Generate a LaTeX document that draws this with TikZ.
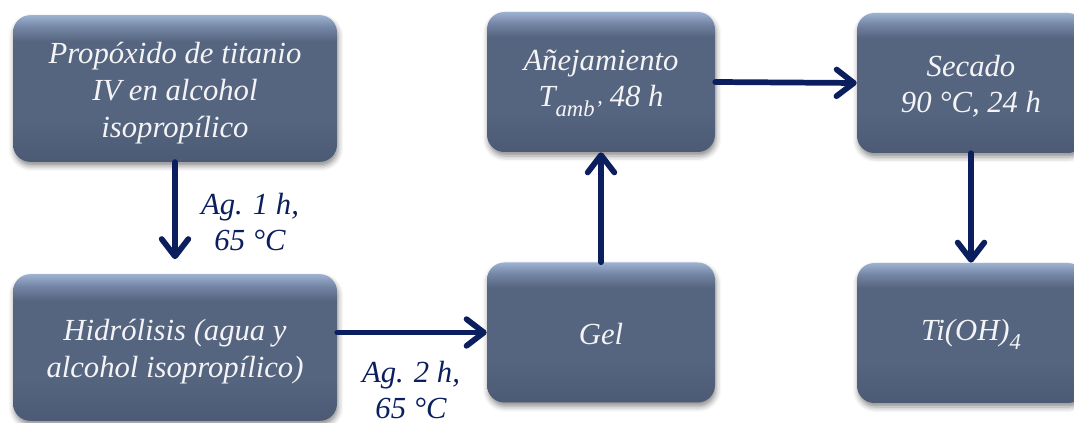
\documentclass[tikz,border=0pt]{standalone}
\usepackage{fontspec}
\setmainfont{Liberation Serif}
\usetikzlibrary{arrows.meta,shadows.blur,calc}

\definecolor{navy}{HTML}{0B1F5E}
\definecolor{bxdark}{HTML}{4C5A76}
\definecolor{bxmid}{HTML}{55647F}
\definecolor{bxlight}{HTML}{7587A6}
\definecolor{bxtop}{HTML}{9DB1D1}
\definecolor{txt}{HTML}{F4F4F6}

% lowered, enlarged subscript as set in the step labels
\newcommand\lowsub[1]{\raisebox{-0.32em}{\fontsize{17}{17}\selectfont #1}}

% box body: flat slate blue with a light band along the top edge
\pgfdeclareverticalshading{boxfill}{100bp}{%
  color(0bp)=(bxdark); color(25bp)=(bxdark); color(40bp)=(bxmid);
  color(66bp)=(bxmid); color(71bp)=(bxlight); color(75bp)=(bxtop);
  color(100bp)=(bxtop)}

\begin{document}
\begin{tikzpicture}[x=0.75pt,y=-0.75pt,
  stepbox/.style={rounded corners=13pt, shade, shading=boxfill, inner sep=0pt,
    blur shadow={shadow xshift=0.8pt, shadow yshift=-3pt,
      shadow blur radius=4pt, shadow opacity=45}},
  widebox/.style={stepbox, minimum width=243pt, minimum height=110pt},
  smallbox/.style={stepbox, minimum width=171pt, minimum height=105pt},
  steptext/.style={text=txt, align=center, inner sep=0pt,
    font=\fontsize{23}{27.5}\selectfont\itshape},
  flow/.style={draw=navy, line width=4.3pt, line cap=round,
    -{Straight Barb[length=13pt,width=20pt,line cap=round,line join=round]}},
  cond/.style={text=navy, align=center,
    font=\fontsize{23}{27}\selectfont\itshape}]

\useasboundingbox (0,0) rectangle (1074,423);

% process steps
\node[widebox] (prop) at (175,88.5) {};
\node[widebox] (hid) at (175,347.5) {};
\node[smallbox] (gel) at (601,332.5) {};
\node[smallbox] (ane) at (601,82) {};
\node[smallbox] (sec) at (971,83) {};
\node[smallbox] (ti) at (971,333) {};

% step texts, set a little below the box centres
\node[steptext] (prop-t) at ([yshift=-3.5pt]prop.center) {Propóxido de titanio\\IV en alcohol\\isopropílico};
\node[steptext] (hid-t) at ([yshift=-3pt]hid.center) {Hidrólisis (agua y\\alcohol isopropílico)};
\node[steptext] (gel-t) at ([yshift=-1.5pt]gel.center) {Gel};
\node[steptext] (ane-t) at ([yshift=-1pt]ane.center) {Añejamiento\\T\lowsub{amb’} 48 h};
\node[steptext] (sec-t) at ([yshift=-2.5pt]sec.center) {Secado\\90 °C, 24 h};
\node[steptext] (ti-t) at ([yshift=-1pt]ti.center) {Ti(OH)\lowsub{4}};

% conditions
\node[cond] (l1) at (250,222) {Ag. 1 h,\\65 °C};
\node[cond] (l2) at (411,390) {Ag. 2 h,\\65 °C};

% flow arrows
\coordinate (a1) at ([yshift=11pt]hid.north);
\draw[flow] (prop.south) -- (a1);
\draw[flow] (hid.east |- gel.west) -- (gel.west);
\draw[flow] (gel.north) -- (ane.south);
\draw[flow] (ane.east) -- (sec.west);
\draw[flow] (sec.south) -- (ti.north);
\end{tikzpicture}
\end{document}
